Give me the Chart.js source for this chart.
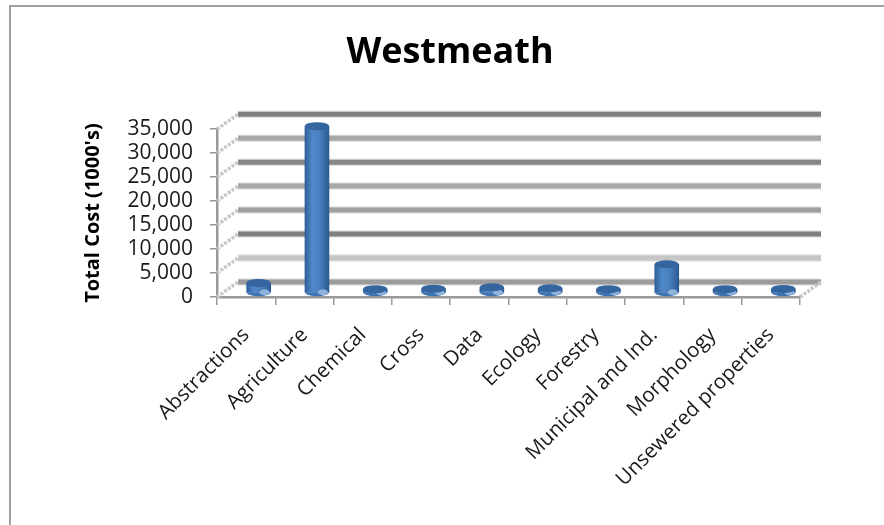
<!DOCTYPE html>
<html>
<head>
<meta charset="utf-8">
<title>Westmeath</title>
<script src="https://cdn.jsdelivr.net/npm/chart.js@4"></script>
<style>
  html, body { margin: 0; padding: 0; background: #fff; overflow: hidden; }
  #frame { position: absolute; left: 9px; top: 5px; width: 884px; height: 530px; border-left: 2px solid #a0a0a0; border-top: 2px solid #a0a0a0; }
  #chart { position: absolute; left: 0; top: 0; filter: blur(0.5px); }
</style>
</head>
<body>
<div id="frame"></div>
<canvas id="chart" width="900" height="525"></canvas>
<script>
//Values
var categories = ['Abstractions', 'Agriculture', 'Chemical', 'Cross', 'Data', 'Ecology', 'Forestry', 'Municipal and Ind.', 'Morphology', 'Unsewered properties'];
var totalCost = [2100, 34800, 800, 900, 1200, 1000, 800, 6000, 800, 850];
var yTicks = [0, 5000, 10000, 15000, 20000, 25000, 30000, 35000];

//Back wall lines came out in slightly different greys, bottom to top
var wallColors = ['#9c9c9c', '#c6c6c6', '#808080', '#a0a0a0', '#a8a8a8', '#868686', '#a8a8a8', '#808080'];
var depthX = 21, depthY = 15;
var barShiftX = 12.5, barShiftY = -4;

//Draws the fake 3D: back wall, floor edges and the round caps of the bars
var wall3d = {
    id: 'wall3d',
    beforeDatasetsDraw: function (chart) {
        var ctx = chart.ctx, y = chart.scales.y, area = chart.chartArea;
        ctx.save();
        yTicks.forEach(function (tick, i) {
            var py = y.getPixelForValue(tick);
            //wall line
            ctx.strokeStyle = '#dcdcdc';
            ctx.lineWidth = 7;
            ctx.beginPath();
            ctx.moveTo(area.left + depthX, py - depthY);
            ctx.lineTo(area.right + depthX, py - depthY);
            ctx.stroke();
            ctx.strokeStyle = wallColors[i];
            ctx.lineWidth = 5;
            ctx.beginPath();
            ctx.moveTo(area.left + depthX, py - depthY);
            ctx.lineTo(area.right + depthX, py - depthY);
            ctx.stroke();
            //side wall diagonal
            ctx.strokeStyle = '#c8c8c8';
            ctx.lineWidth = 3.5;
            ctx.setLineDash([3, 1.5]);
            ctx.beginPath();
            ctx.moveTo(area.left, py);
            ctx.lineTo(area.left + depthX, py - depthY);
            ctx.stroke();
            ctx.setLineDash([]);
        });
        //right floor edge
        var p0 = y.getPixelForValue(0);
        ctx.strokeStyle = '#c8c8c8';
        ctx.lineWidth = 3.5;
        ctx.setLineDash([3, 1.5]);
        ctx.beginPath();
        ctx.moveTo(area.right, p0);
        ctx.lineTo(area.right + depthX, p0 - depthY);
        ctx.stroke();
        ctx.restore();
        //bars sit in the middle of the floor depth
        ctx.save();
        ctx.translate(barShiftX, barShiftY);
    },
    afterDatasetsDraw: function (chart) {
        var ctx = chart.ctx;
        chart.getDatasetMeta(0).data.forEach(function (bar) {
            var r = bar.width / 2;
            //bottom of the cylinder
            ctx.fillStyle = '#3f74b3';
            ctx.beginPath();
            ctx.ellipse(bar.x, bar.base, r, 4, 0, 0, Math.PI);
            ctx.fill();
            //light spot at the base
            ctx.fillStyle = '#8fb2dc';
            ctx.beginPath();
            ctx.ellipse(bar.x + r - 6, bar.base, 5, 3, 0, 0, Math.PI * 2);
            ctx.fill();
            //top of the cylinder
            ctx.fillStyle = '#34659f';
            ctx.beginPath();
            ctx.ellipse(bar.x, bar.y, r, 4, 0, 0, Math.PI * 2);
            ctx.fill();
        });
        ctx.restore();
    }
};

function barFill(context) {
    var chart = context.chart;
    if (context.dataIndex === undefined || !chart.chartArea) {
        return '#4a7ebb';
    }
    var cx = chart.scales.x.getPixelForValue(context.dataIndex);
    var g = chart.ctx.createLinearGradient(cx - 12, 0, cx + 12, 0);
    g.addColorStop(0, '#2f5f98');
    g.addColorStop(0.3, '#4f88ca');
    g.addColorStop(0.6, '#4a80c0');
    g.addColorStop(1, '#2b5a90');
    return g;
}

var ctx = document.getElementById('chart').getContext('2d');

var myChart = new Chart(ctx, {
    type: 'bar',
    data: {
        labels: categories,
        datasets: [{
            label: 'Total Cost',
            data: totalCost,
            backgroundColor: barFill,
            barThickness: 24,
            clip: false
        }]
    },
    plugins: [wall3d],
    options: {
        responsive: false,
        animation: false,
        plugins: {
            legend: { display: false },
            tooltip: { enabled: false },
            title: {
                display: true,
                text: 'Westmeath',
                color: '#000',
                font: { family: 'Open Sans', size: 36, weight: 'bold' },
                padding: { top: 31, bottom: 55 }
            }
        },
        scales: {
            x: {
                afterFit: function (scale) { scale.height = 228; },
                grid: { offset: true, drawOnChartArea: false, color: '#999', lineWidth: 1.5, tickLength: 8 },
                border: { color: '#999', width: 2.5 },
                ticks: {
                    color: '#1a1a1a',
                    font: { family: 'Open Sans', size: 20.5 },
                    maxRotation: 45,
                    minRotation: 45,
                    autoSkip: false,
                    padding: 18
                }
            },
            y: {
                min: 0,
                max: 35000,
                afterFit: function (scale) { scale.width = 217; },
                afterBuildTicks: function (scale) {
                    scale.ticks = yTicks.map(function (v) { return { value: v }; });
                },
                grid: { drawOnChartArea: false, color: '#999', lineWidth: 1.5, tickLength: 7 },
                border: { color: '#999', width: 2.5 },
                ticks: {
                    color: '#1a1a1a',
                    font: { family: 'Open Sans', size: 21 },
                    padding: 17,
                    autoSkip: false,
                    callback: function (value) { return value.toLocaleString('en-US'); }
                },
                title: {
                    display: true,
                    text: "Total Cost (1000's)",
                    color: '#000',
                    font: { family: 'Open Sans', size: 20, weight: 'bold' },
                    padding: { top: 81, bottom: 0 }
                }
            },
            //empty axis, only keeps the title centred over the reference position
            spacer: {
                position: 'right',
                afterFit: function (scale) { scale.width = 100; },
                grid: { display: false },
                border: { display: false },
                ticks: { display: false }
            }
        }
    }
});
</script>
</body>
</html>
